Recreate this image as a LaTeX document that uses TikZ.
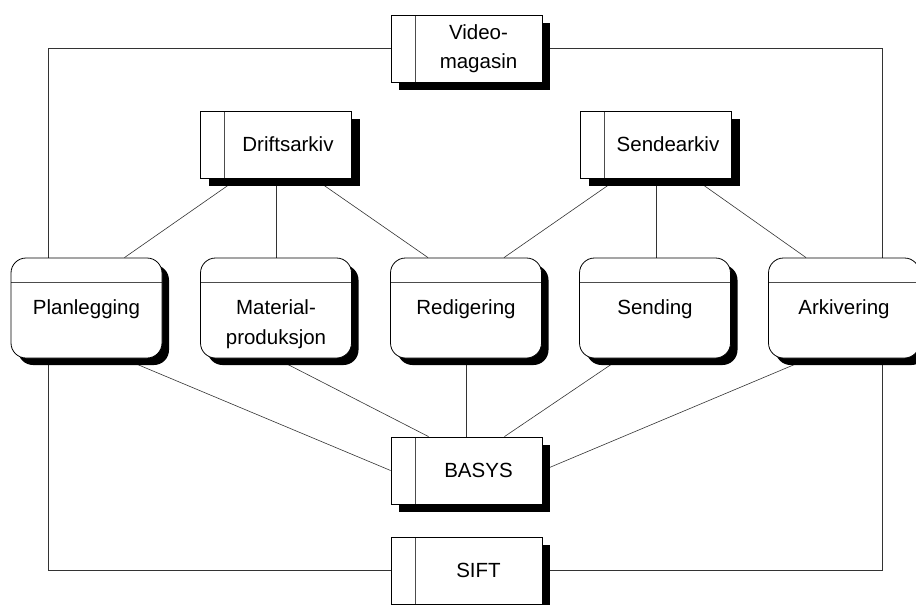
\documentclass[tikz,border=0pt]{standalone}
\usepackage{fontspec}
\setmainfont{Liberation Sans}
\usetikzlibrary{calc,shadows,backgrounds}
\begin{document}
\begin{tikzpicture}[x=1pt,y=-1pt,
  every node/.style={font=\fontsize{20.5}{29.5}\selectfont},
  store/.style={draw=black, line width=0.8pt, fill=white,
    minimum width=151pt, minimum height=67pt, inner sep=0pt,
    drop shadow={shadow xshift=8pt, shadow yshift=-8pt, opacity=1, fill=black},
    path picture={\draw[black!70, line width=0.7pt]
      ([xshift=24pt]path picture bounding box.north west) --
      ([xshift=24pt]path picture bounding box.south west);}},
  proc/.style={draw=black, line width=0.8pt, fill=white, rounded corners=15pt,
    minimum width=151pt, minimum height=100pt, inner sep=0pt,
    drop shadow={shadow xshift=7pt, shadow yshift=-7pt, opacity=1, fill=black},
    path picture={\draw[black!70, line width=0.7pt]
      ([yshift=-24pt]path picture bounding box.north west) --
      ([yshift=-24pt]path picture bounding box.north east);}},
  caption/.style={align=center, inner sep=0pt},
  link/.style={draw=black!80, line width=0.6pt}]

\useasboundingbox (0,0) rectangle (916,605);
\clip (0,0) rectangle (916,605);

% data stores
\node[store] (video) at (466.5,48.5) {};
\node[store] (drift) at (276,144.5) {};
\node[store] (sende) at (656,144.5) {};
\node[store] (basys) at (466.5,470.5) {};
\node[store] (sift)  at (466.5,570.5) {};

% processes
\node[proc] (plan) at (86.5,308) {};
\node[proc] (mat)  at (276,308) {};
\node[proc] (red)  at (466,308) {};
\node[proc] (send) at (655,308) {};
\node[proc] (ark)  at (844,308) {};

% store labels
\node[caption] (videotxt) at ($(video.center)+(12,0)$) {Video-\\magasin};
\node[caption] (drifttxt) at ($(drift.center)+(12,0)$) {Driftsarkiv};
\node[caption] (sendetxt) at ($(sende.center)+(12,0)$) {Sendearkiv};
\node[caption] (basystxt) at ($(basys.center)+(12,0)$) {BASYS};
\node[caption] (sifttxt)  at ($(sift.center)+(12,0)$) {SIFT};

% process labels
\node[caption, anchor=north] (plantxt) at ($(plan.north)+(0,42)$) {Planlegging};
\node[caption, anchor=north] (mattxt)  at ($(mat.north)+(0,42)$) {Material-\\produksjon};
\node[caption, anchor=north] (redtxt)  at ($(red.north)+(0,42)$) {Redigering};
\node[caption, anchor=north] (sendtxt) at ($(send.north)+(0,42)$) {Sending};
\node[caption, anchor=north] (arktxt)  at ($(ark.north)+(0,42)$) {Arkivering};

\begin{scope}[on background layer]
  % outer frame through Videomagasin and SIFT
  \draw[link] (video.west) -| ($(plan.north west)!0.25!(plan.north east)$);
  \draw[link] (video.east) -| ($(ark.north west)!0.75!(ark.north east)$);
  \draw[link] (sift.west) -| ($(plan.south west)!0.25!(plan.south east)$);
  \draw[link] (sift.east) -| ($(ark.south west)!0.75!(ark.south east)$);

  % Driftsarkiv
  \draw[link] ($(drift.south west)!0.25!(drift.south east)$) -- ($(plan.north west)!0.75!(plan.north east)$);
  \draw[link] (drift.south) -- (drift.south |- mat.north);
  \draw[link] ($(drift.south west)!0.75!(drift.south east)$) -- ($(red.north west)!0.25!(red.north east)$);

  % Sendearkiv
  \draw[link] ($(sende.south west)!0.25!(sende.south east)$) -- ($(red.north west)!0.75!(red.north east)$);
  \draw[link] (sende.south) -- (sende.south |- send.north);
  \draw[link] ($(sende.south west)!0.75!(sende.south east)$) -- ($(ark.north west)!0.25!(ark.north east)$);

  % BASYS
  \draw[link] ($(plan.south west)!0.74!(plan.south east)$) -- (basys.west);
  \draw[link] (mat.south) -- ($(basys.north west)!0.25!(basys.north east)$);
  \draw[link] (red.south) -- (red.south |- basys.north);
  \draw[link] ($(send.south west)!0.27!(send.south east)$) -- ($(basys.north west)!0.75!(basys.north east)$);
  \draw[link] ($(ark.south west)!0.27!(ark.south east)$) -- (basys.east);
\end{scope}
\end{tikzpicture}
\end{document}
